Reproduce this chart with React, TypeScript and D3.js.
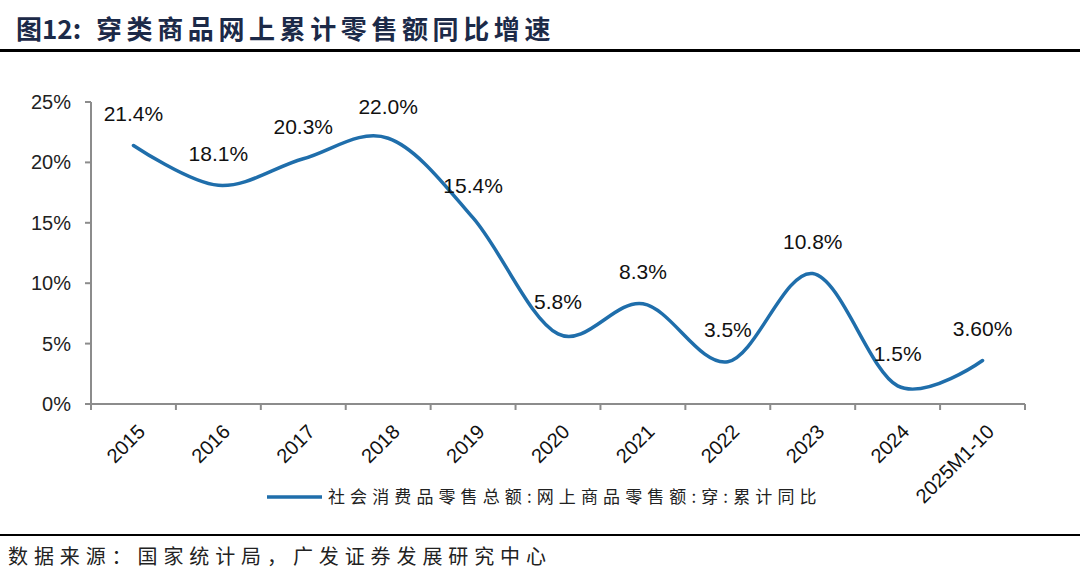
import React from 'react';
import * as d3 from 'd3';

const categories = ['2015', '2016', '2017', '2018', '2019', '2020', '2021', '2022', '2023', '2024', '2025M1-10'];
const values = [21.4, 18.1, 20.3, 22.0, 15.4, 5.8, 8.3, 3.5, 10.8, 1.5, 3.6];
const valueLabels = ['21.4%', '18.1%', '20.3%', '22.0%', '15.4%', '5.8%', '8.3%', '3.5%', '10.8%', '1.5%', '3.60%'];
const yTicks = [0, 5, 10, 15, 20, 25];

const W = 1080;
const H = 584;
const left = 91;
const right = 1025;
const top = 102;
const bottom = 404;

const lineColor = '#1f6eab';
const axisColor = '#8c8c8c';
const sans = 'Arial, "Liberation Sans", sans-serif';
const cjk = '"Noto Sans CJK SC", sans-serif';

export default function App() {
  const x = d3.scaleBand<string>().domain(categories).range([left, right]);
  const y = d3.scaleLinear().domain([0, 25]).range([bottom, top]);
  const cx = (c: string) => (x(c) ?? 0) + x.bandwidth() / 2;

  const pts: [number, number][] = values.map((v, i) => [cx(categories[i]), y(v)]);
  const path = d3.line().curve(d3.curveCardinal.tension(0))(pts) ?? '';

  return (
    <svg width={W} height={H} style={{ position: 'absolute', left: 0, top: 0, background: '#fff' }}>
      {/* title */}
      <text x={16} y={39} fontFamily={cjk} fontWeight="bold" fontSize={26} fill="#1c2a48">
        图12:
      </text>
      <text x={96} y={39} fontFamily={cjk} fontWeight="bold" fontSize={26} letterSpacing={4.6} fill="#1c2a48">
        穿类商品网上累计零售额同比增速
      </text>
      <rect x={0} y={49} width={W} height={3} fill="#000" />

      {/* y axis */}
      <line x1={left} x2={left} y1={top} y2={bottom} stroke={axisColor} strokeWidth={2} />
      {yTicks.map(t => (
        <g key={t}>
          <line x1={left - 6} x2={left} y1={y(t)} y2={y(t)} stroke={axisColor} strokeWidth={2} />
          <text x={left - 20} y={y(t)} dy="0.35em" textAnchor="end" fontFamily={sans} fontSize={20} fill="#222">
            {t}%
          </text>
        </g>
      ))}

      {/* x axis */}
      <line x1={left} x2={right} y1={bottom} y2={bottom} stroke={axisColor} strokeWidth={2} />
      {[...categories.map(c => x(c) ?? 0), right].map((tx, i) => (
        <line key={i} x1={tx} x2={tx} y1={bottom} y2={bottom + 6} stroke={axisColor} strokeWidth={2} />
      ))}
      {categories.map(c => (
        <text
          key={c}
          transform={`translate(${cx(c) + 3},${bottom + 19}) rotate(-45)`}
          textAnchor="end"
          dy="0.7em"
          fontFamily={sans}
          fontSize={20}
          fill="#111"
        >
          {c}
        </text>
      ))}

      {/* series */}
      <path d={path} fill="none" stroke={lineColor} strokeWidth={3.5} strokeLinecap="round" />
      {pts.map(([px, py], i) => (
        <text key={i} x={px} y={py - 24.5} textAnchor="middle" fontFamily={sans} fontSize={21} fill="#111">
          {valueLabels[i]}
        </text>
      ))}

      {/* legend */}
      <line x1={267} x2={322} y1={497} y2={497} stroke={lineColor} strokeWidth={3.5} />
      <text x={328} y={497} dy="0.35em" fontFamily={cjk} fontSize={17} letterSpacing={5.1} fill="#222">
        社会消费品零售总额:网上商品零售额:穿:累计同比
      </text>

      {/* footer */}
      <rect x={0} y={534} width={W} height={2} fill="#000" />
      <text x={8} y={564} fontFamily={cjk} fontSize={20} letterSpacing={5.9} fill="#222">
        数据来源：国家统计局，广发证券发展研究中心
      </text>
    </svg>
  );
}
